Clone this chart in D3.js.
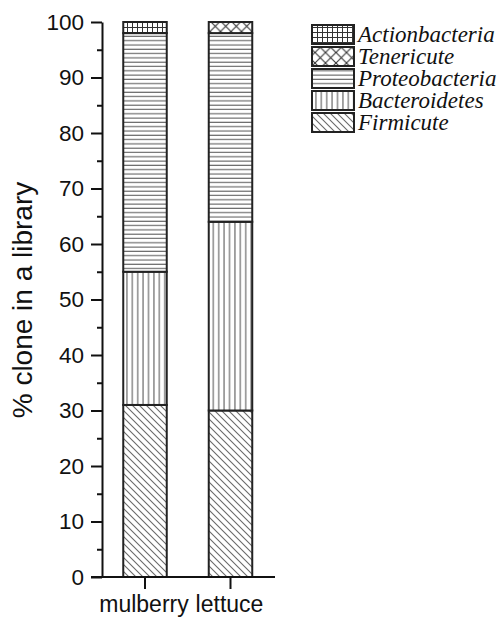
<!DOCTYPE html>
<html><head><meta charset="utf-8">
<script src="https://cdn.jsdelivr.net/npm/d3@7"></script>
<style>body{margin:0;background:#fff}svg{display:block}
.leg text{font-family:"Liberation Serif","Times New Roman",Times,serif;font-style:italic}
</style>
</head><body>
<svg id="c" width="501" height="619"></svg>
<script>
const categories = ["mulberry", "lettuce"];
const seriesNames = ["Firmicute", "Bacteroidetes", "Proteobacteria", "Tenericute", "Actionbacteria"];
const firmicute = [31, 30];
const bacteroidetes = [24, 34];
const proteobacteria = [43, 34];
const tenericute = [0, 2];
const actionbacteria = [2, 0];
const yTicks = [0, 10, 20, 30, 40, 50, 60, 70, 80, 90, 100];
const legendOrder = ["Actionbacteria", "Tenericute", "Proteobacteria", "Bacteroidetes", "Firmicute"];

const seriesValues = {Firmicute: firmicute, Bacteroidetes: bacteroidetes, Proteobacteria: proteobacteria, Tenericute: tenericute, Actionbacteria: actionbacteria};
const rows = categories.map((c, i) => {
  const r = {cat: c};
  seriesNames.forEach(s => r[s] = seriesValues[s][i]);
  return r;
});

const svg = d3.select("#c");
const defs = svg.append("defs");
const lineCol = "#6a6a6a";
const sans = "'Liberation Sans', Arial, sans-serif";

function pat(id, w, h, draw) {
  const p = defs.append("pattern").attr("id", id).attr("patternUnits", "userSpaceOnUse")
    .attr("width", w).attr("height", h);
  p.append("rect").attr("width", w).attr("height", h).attr("fill", "#fff");
  draw(p);
}
pat("p-Firmicute", 7, 7, p => {
  p.append("path").attr("d", "M-1,-1 L8,8 M-1,6 L1,8 M6,-1 L8,1").attr("stroke", lineCol).attr("stroke-width", 1.1);
});
pat("p-Bacteroidetes", 5.4, 10, p => {
  p.append("line").attr("x1", 2.7).attr("x2", 2.7).attr("y1", 0).attr("y2", 10).attr("stroke", lineCol).attr("stroke-width", 1.2);
});
pat("p-Proteobacteria", 10, 4.3, p => {
  p.append("line").attr("x1", 0).attr("x2", 10).attr("y1", 2).attr("y2", 2).attr("stroke", lineCol).attr("stroke-width", 1.2);
});
pat("p-Actionbacteria", 5, 5, p => {
  p.append("path").attr("d", "M2.5,0 V5 M0,2.5 H5").attr("stroke", "#333").attr("stroke-width", 1);
});
pat("p-Tenericute", 10.5, 10.5, p => {
  p.append("path").attr("d", "M0,0 L10.5,10.5 M10.5,0 L0,10.5").attr("stroke", "#333").attr("stroke-width", 1.1);
});

const y = d3.scaleLinear().domain([0, 100]).range([577, 22]);
const xc = d3.scalePoint().domain(categories).range([145, 230.5]);
const barW = 43.5;

const stack = d3.stack().keys(seriesNames)(rows);

const g = svg.append("g");
stack.forEach(layer => {
  g.selectAll(null).data(layer.filter(d => d[1] - d[0] > 0)).enter().append("rect")
    .attr("x", d => xc(d.data.cat) - barW / 2)
    .attr("width", barW)
    .attr("y", d => y(d[1]))
    .attr("height", d => y(d[0]) - y(d[1]))
    .attr("fill", `url(#p-${layer.key})`)
    .attr("stroke", "#222").attr("stroke-width", 2);
});

// Y axis
const yAxis = svg.append("g").attr("transform", "translate(102,0)");
yAxis.call(d3.axisLeft(y).tickValues(yTicks).tickSize(11).tickPadding(7).tickSizeOuter(0));
yAxis.append("g").call(d3.axisLeft(y).tickValues(d3.range(5, 100, 10)).tickSize(5).tickFormat("").tickSizeOuter(0))
  .select(".domain").remove();
yAxis.selectAll("line,path").attr("stroke", "#111").attr("stroke-width", 2);
yAxis.selectAll("text").attr("font-family", sans).attr("font-size", 22.5).attr("fill", "#111");

// X axis
const xAxis = svg.append("g").attr("transform", "translate(0,577)");
xAxis.append("line").attr("x1", 91).attr("x2", 275).attr("stroke", "#111").attr("stroke-width", 2);
xAxis.selectAll(null).data(categories).enter().append("line")
  .attr("x1", d => xc(d)).attr("x2", d => xc(d)).attr("y1", 0).attr("y2", 12)
  .attr("stroke", "#111").attr("stroke-width", 2);
xAxis.selectAll(null).data(categories).enter().append("text")
  .attr("x", d => xc(d) - 1).attr("y", 35).attr("text-anchor", "middle")
  .attr("font-family", sans).attr("font-size", 23).attr("fill", "#111")
  .text(d => d);

// Y title
svg.append("text").attr("transform", "translate(32,300) rotate(-90)").attr("text-anchor", "middle")
  .attr("font-family", sans).attr("font-size", 28).attr("fill", "#111")
  .text("% clone in a library");

// Legend
const leg = svg.append("g").attr("class", "leg");
legendOrder.forEach((s, i) => {
  const yy = 25 + i * 22;
  leg.append("rect").attr("x", 312).attr("y", yy).attr("width", 42).attr("height", 19)
    .attr("fill", `url(#p-${s})`).attr("stroke", "#222").attr("stroke-width", 2);
  leg.append("text").attr("x", 358).attr("y", yy + 17)
    .attr("font-size", 23).attr("fill", "#111").text(s);
});
</script>
</body></html>
